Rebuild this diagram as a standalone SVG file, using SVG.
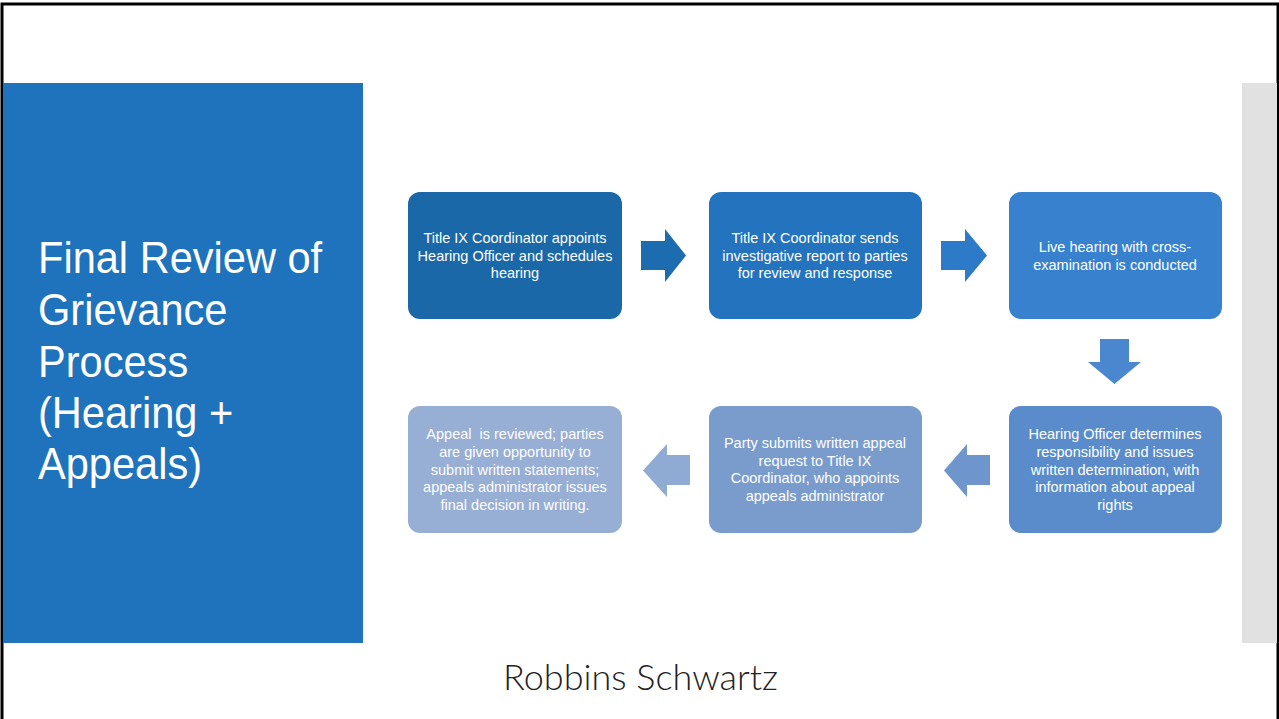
<svg xmlns="http://www.w3.org/2000/svg" width="1279" height="719" viewBox="0 0 1279 719">
  <style>
    .step { font-family: "Liberation Sans", Arial, sans-serif; font-size: 14.5px; fill: #ffffff; text-anchor: middle; }
    .title { font-family: "Liberation Sans", Arial, sans-serif; font-size: 44px; fill: #ffffff; }
    .brand { font-family: Lato, "Liberation Sans", sans-serif; font-weight: 300; font-size: 36px; fill: #222222; }
  </style>

  <!-- slide background and frame -->
  <rect x="0" y="0" width="1279" height="719" fill="#ffffff"/>
  <path d="M2 719 V4 H1278 V719" fill="none" stroke="#000000" stroke-width="3"/>

  <!-- side panels -->
  <rect x="3" y="83" width="360" height="560" fill="#1E73BC"/>
  <rect x="1242" y="83" width="35" height="560" fill="#E1E1E1"/>

  <g id="title" transform="translate(38,0) scale(0.945,1)">
    <text class="title" x="0" y="273">Final Review of</text>
    <text class="title" x="0" y="325">Grievance</text>
    <text class="title" x="0" y="377">Process</text>
    <text class="title" x="0" y="428">(Hearing +</text>
    <text class="title" x="0" y="479">Appeals)</text>
  </g>

  <!-- connectors between steps -->
  <g id="connectors">
    <polygon points="641,241 665,241 665,229 686,255.5 665,282 665,270 641,270" fill="#1D6CB0"/>
    <polygon points="941,241 965,241 965,229 987,255.5 965,282 965,270 941,270" fill="#2D7AC8"/>
    <polygon points="1100,339 1129,339 1129,362 1141,362 1114.5,384 1088,362 1100,362" fill="#4A87CF"/>
    <polygon points="990,455 967,455 967,444 944,470.5 967,497 967,485 990,485" fill="#6E95CC"/>
    <polygon points="690,455 667,455 667,444 643,470.5 667,497 667,485 690,485" fill="#8FAAD3"/>
  </g>

  <g id="step1">
    <rect x="408" y="192" width="214" height="127" rx="12" fill="#1B68A9"/>
    <text class="step" x="515" y="243">Title IX Coordinator appoints</text>
    <text class="step" x="515" y="260.5">Hearing Officer and schedules</text>
    <text class="step" x="515" y="278">hearing</text>
  </g>

  <g id="step2">
    <rect x="709" y="192" width="213" height="127" rx="12" fill="#2373BE"/>
    <text class="step" x="815" y="243">Title IX Coordinator sends</text>
    <text class="step" x="815" y="260.5">investigative report to parties</text>
    <text class="step" x="815" y="278">for review and response</text>
  </g>

  <g id="step3">
    <rect x="1009" y="192" width="213" height="127" rx="12" fill="#3781CE"/>
    <text class="step" x="1115" y="252">Live hearing with cross-</text>
    <text class="step" x="1115" y="269.5">examination is conducted</text>
  </g>

  <g id="step4">
    <rect x="1009" y="406" width="213" height="127" rx="12" fill="#5A8CCB"/>
    <text class="step" x="1115" y="439">Hearing Officer determines</text>
    <text class="step" x="1115" y="457">responsibility and issues</text>
    <text class="step" x="1115" y="474.5">written determination, with</text>
    <text class="step" x="1115" y="492">information about appeal</text>
    <text class="step" x="1115" y="510">rights</text>
  </g>

  <g id="step5">
    <rect x="709" y="406" width="213" height="127" rx="12" fill="#7A9CCD"/>
    <text class="step" x="815" y="448">Party submits written appeal</text>
    <text class="step" x="815" y="465.5">request to Title IX</text>
    <text class="step" x="815" y="483">Coordinator, who appoints</text>
    <text class="step" x="815" y="500.5">appeals administrator</text>
  </g>

  <g id="step6">
    <rect x="408" y="406" width="214" height="127" rx="12" fill="#97AED5"/>
    <text class="step" x="515" y="439" style="white-space:pre">Appeal  is reviewed; parties</text>
    <text class="step" x="515" y="457">are given opportunity to</text>
    <text class="step" x="515" y="474.5">submit written statements;</text>
    <text class="step" x="515" y="492">appeals administrator issues</text>
    <text class="step" x="515" y="510">final decision in writing.</text>
  </g>

  <text class="brand" x="503" y="690">Robbins Schwartz</text>
</svg>
